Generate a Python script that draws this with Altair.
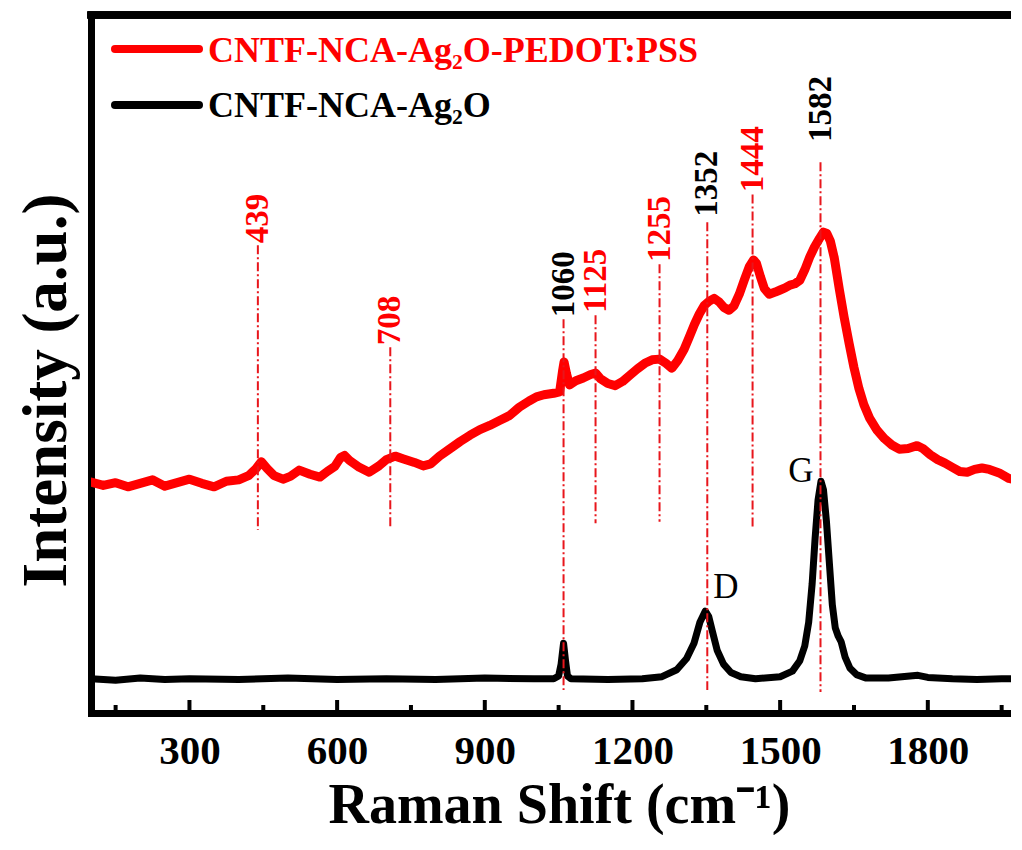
import altair as alt
import pandas as pd

# ---------------- data ----------------
red_x = [100, 125, 150, 175, 200, 225, 250, 275, 300, 325, 350, 375, 400, 420, 435, 446, 458, 472,
         490, 505, 523, 545, 565, 580, 595, 607, 615, 625, 645, 665, 685, 700, 718, 735, 757, 775,
         790, 808, 830, 850, 870, 890, 910, 930, 950, 970, 990, 1005, 1020, 1040, 1052, 1058, 1061,
         1066, 1072, 1085, 1100, 1115, 1125, 1135, 1150, 1165, 1180, 1195, 1210, 1225, 1240, 1255,
         1268, 1280, 1292, 1305, 1315, 1326, 1336, 1346, 1356, 1366, 1376, 1386, 1396, 1406, 1417,
         1427, 1437, 1446, 1452, 1460, 1468, 1478, 1490, 1500, 1510, 1520, 1530, 1540, 1550, 1560,
         1570, 1580, 1588, 1595, 1602, 1610, 1620, 1630, 1640, 1650, 1660, 1670, 1682, 1697, 1712,
         1727, 1742, 1760, 1778, 1790, 1805, 1820, 1835, 1850, 1865, 1880, 1895, 1910, 1925, 1945,
         1965, 1988]
red_y = [33.1, 32.6, 33.0, 32.4, 32.9, 33.4, 32.5, 33.0, 33.5, 32.9, 32.4, 33.2, 33.4, 34.0, 35.0,
         36.0, 35.0, 34.0, 33.5, 33.9, 34.8, 34.2, 33.8, 34.6, 35.3, 36.6, 36.9, 36.2, 35.2, 34.5,
         35.4, 36.3, 36.8, 36.4, 35.9, 35.4, 35.7, 36.8, 37.9, 38.9, 39.8, 40.6, 41.2, 41.9, 42.6,
         43.8, 44.7, 45.3, 45.6, 45.8, 46.0, 49.0, 50.3, 48.6, 47.0, 47.6, 48.0, 48.5, 48.7, 47.9,
         47.2, 46.9, 47.5, 48.4, 49.3, 50.1, 50.6, 50.7, 50.1, 49.4, 50.5, 52.1, 53.8, 55.7, 57.2,
         58.4, 59.0, 59.4, 58.9, 58.1, 57.7, 58.3, 60.0, 62.0, 63.9, 64.9, 64.4, 62.5, 60.8, 60.0,
         60.3, 60.6, 60.9, 61.3, 61.5, 62.0, 63.5, 65.3, 66.8, 68.0, 68.9, 68.7, 67.6, 65.2, 60.8,
         56.7, 53.0, 49.5, 46.5, 44.2, 42.2, 40.5, 39.3, 38.4, 37.8, 37.9, 38.3, 37.9, 37.0, 36.3,
         35.8, 35.2, 34.6, 34.5, 34.9, 35.1, 34.9, 34.4, 33.6, 33.2]

black_x = [100, 150, 200, 250, 300, 400, 500, 600, 700, 800, 900, 1000, 1040, 1050, 1055, 1060,
           1064, 1068, 1075, 1150, 1220, 1260, 1290, 1310, 1325, 1337, 1348, 1355, 1362, 1372,
           1385, 1400, 1420, 1450, 1500, 1525, 1540, 1550, 1558, 1565, 1571, 1577, 1583, 1588,
           1594, 1600, 1606, 1612, 1618, 1624, 1632, 1642, 1655, 1675, 1720, 1780, 1800, 1850,
           1900, 1950, 1988]
black_y = [4.9, 4.7, 5.0, 4.8, 4.9, 4.8, 5.0, 4.8, 4.9, 4.8, 5.0, 4.9, 4.9, 5.3, 7.0, 10.0,
           7.5, 5.3, 4.9, 4.8, 4.9, 5.2, 6.2, 7.8, 10.0, 13.0, 14.6, 13.8, 11.8, 9.0,
           7.0, 5.8, 5.2, 4.9, 5.2, 6.0, 7.5, 9.6, 13.0, 18.5, 25.0, 30.5, 33.2, 32.0,
           27.5, 21.5, 15.5, 12.2, 11.0, 10.2, 8.0, 6.4, 5.5, 5.0, 5.0, 5.4, 5.1, 4.9,
           4.8, 4.9, 4.9]

peak_pos = [439, 708, 1060, 1125, 1255, 1352, 1444, 1582]
peak_label_color = ["#ff0000", "#ff0000", "#000000", "#ff0000", "#ff0000", "#000000", "#ff0000", "#000000"]
peak_label_y = [67.3, 52.7, 56.7, 57.3, 64.6, 71.1, 74.6, 81.8]
peak_line_top = [67.0, 52.4, 56.4, 57.0, 64.3, 70.3, 74.3, 78.9]
peak_line_bottom = [26.2, 26.6, 3.3, 27.2, 27.4, 3.3, 26.6, 3.0]

band_names = ["D", "G"]
band_x = [1390, 1542]
band_y = [18.1, 34.6]

series_names = ["CNTF-NCA-Ag\u2082O-PEDOT:PSS", "CNTF-NCA-Ag\u2082O"]
series_colors = ["#ff0000", "#000000"]

major_ticks = [300, 600, 900, 1200, 1500, 1800]
minor_ticks = [150, 450, 750, 1050, 1350, 1650, 1950]

# ---------------- chart ----------------
W, H = 920, 698
FONT = "Liberation Serif"

x_scale = alt.Scale(domain=[100, 1969], nice=False, zero=False)
y_scale = alt.Scale(domain=[0, 100], nice=False, zero=False)

X_AX = alt.Axis(values=major_ticks, format="d", ticks=False, tickSize=0, grid=False,
                labelFont=FONT, labelFontSize=41, labelFontWeight="bold", labelColor="black",
                labelPadding=50, labelBaseline="alphabetic", labelFlush=False, labelOverlap=False,
                domain=True, domainWidth=7, domainColor="black", domainCap="square",
                title="Raman Shift (cm\u207b\u00b9)", titleFont=FONT, titleFontSize=56,
                titleFontWeight="bold", titleColor="black", titleX=468, titleY=109,
                titleBaseline="alphabetic", titleAlign="center")
Y_AX = alt.Axis(labels=False, ticks=False, tickSize=0, grid=False,
                domain=True, domainWidth=7, domainColor="black", domainCap="square",
                title="Intensity (a.u.)", titleFont=FONT, titleFontSize=63,
                titleFontWeight="bold", titleColor="black", titleAngle=270,
                titleX=-26, titleY=375, titleBaseline="alphabetic", titleAlign="center")

red_df = pd.DataFrame({"x": red_x, "y": red_y})
black_df = pd.DataFrame({"x": black_x, "y": black_y})
peaks_df = pd.DataFrame({"pos": peak_pos, "label": [str(p) for p in peak_pos],
                         "c": peak_label_color, "ly": peak_label_y,
                         "top": peak_line_top, "bottom": peak_line_bottom})
band_df = pd.DataFrame({"name": band_names, "x": band_x, "y": band_y})
major_df = pd.DataFrame({"t": major_ticks})
minor_df = pd.DataFrame({"t": minor_ticks})

red_line = alt.Chart(red_df).mark_line(color="#ff0000", strokeWidth=9, strokeJoin="round",
                                       strokeCap="round", clip=True).encode(
    x=alt.X("x:Q", scale=x_scale, axis=X_AX),
    y=alt.Y("y:Q", scale=y_scale, axis=Y_AX),
)
black_line = alt.Chart(black_df).mark_line(color="#000000", strokeWidth=7, strokeJoin="round",
                                           strokeCap="round", clip=True).encode(
    x=alt.X("x:Q", scale=x_scale, axis=X_AX),
    y=alt.Y("y:Q", scale=y_scale, axis=Y_AX),
)
peak_lines = alt.Chart(peaks_df).mark_rule(color="#e8161c", strokeWidth=2,
                                           strokeDash=[9, 3, 2, 3]).encode(
    x=alt.X("pos:Q", scale=x_scale, axis=X_AX),
    y=alt.Y("top:Q", scale=y_scale, axis=Y_AX),
    y2="bottom:Q",
)
peak_labels = alt.Chart(peaks_df).mark_text(font=FONT, fontSize=33, fontWeight="bold",
                                            angle=270, align="left", baseline="middle").encode(
    x=alt.X("pos:Q", scale=x_scale, axis=X_AX),
    y=alt.Y("ly:Q", scale=y_scale, axis=Y_AX),
    text="label:N",
    color=alt.Color("c:N", scale=None),
)
band_labels = alt.Chart(band_df).mark_text(font=FONT, fontSize=35, color="black",
                                           align="center", baseline="middle").encode(
    x=alt.X("x:Q", scale=x_scale, axis=X_AX),
    y=alt.Y("y:Q", scale=y_scale, axis=Y_AX),
    text="name:N",
)
major_tick_marks = alt.Chart(major_df).mark_rule(color="black", strokeWidth=4).encode(
    x=alt.X("t:Q", scale=x_scale, axis=X_AX),
    y=alt.value(H), y2=alt.value(H - 13),
)
minor_tick_marks = alt.Chart(minor_df).mark_rule(color="black", strokeWidth=4).encode(
    x=alt.X("t:Q", scale=x_scale, axis=X_AX),
    y=alt.value(H), y2=alt.value(H - 8),
)
top_border = alt.Chart(major_df).mark_rule(color="black", strokeWidth=7, strokeCap="square").encode(
    x=alt.value(0), x2=alt.value(W), y=alt.value(0),
)

legend_layers = []
for i, (name, col) in enumerate(zip(series_names, series_colors)):
    ldf = pd.DataFrame({"name": [name]})
    line_y = 34 + i * 56
    legend_layers.append(
        alt.Chart(ldf).mark_rule(color=col, strokeWidth=8, strokeCap="round").encode(
            x=alt.value(24), x2=alt.value(108), y=alt.value(line_y))
    )
    legend_layers.append(
        alt.Chart(ldf).mark_text(font=FONT, fontSize=36, fontWeight="bold", color=col,
                                 align="left", baseline="alphabetic").encode(
            x=alt.value(117), y=alt.value(47 + i * 55), text="name:N")
    )

chart = alt.layer(
    red_line, black_line, peak_lines, peak_labels, band_labels,
    major_tick_marks, minor_tick_marks, top_border, *legend_layers
).properties(
    width=W, height=H,
    autosize=alt.AutoSizeParams(type="none"),
    padding={"left": 83, "top": 7, "right": 0, "bottom": 122},
    background="white",
).configure_view(stroke=None)

chart.save("out.html", embed_options={"renderer": "svg", "actions": False})
